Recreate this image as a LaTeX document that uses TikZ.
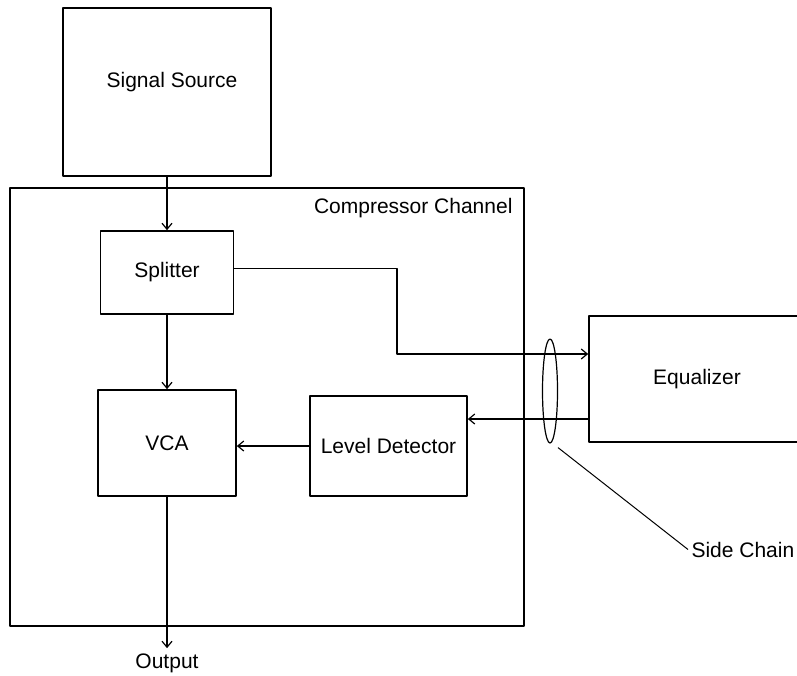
\documentclass[tikz,border=0pt]{standalone}
\usepackage{fontspec}
\setmainfont{Liberation Sans}
\usetikzlibrary{arrows.meta,shapes.geometric}
\begin{document}
\begin{tikzpicture}[x = 1pt, y = -1pt, line join = round, font = \fontsize{21}{25}\selectfont,
		box/.style = {draw, line width = 1.7pt, inner sep = 0pt},
		arr/.style = {line width = 1.6pt, -{Straight Barb[length = 6pt, width = 10pt, line width = 1.2pt]}}]
				\useasboundingbox (0,0) rectangle (797,675);
				% blocks
				\node[box, minimum width = 208pt, minimum height = 168pt] (src) at (167,92) {};
				\node[anchor = base] (srclbl) at (172,87) {Signal Source};
				\node[box, minimum width = 514pt, minimum height = 438pt] (chan) at (267,407) {};
				\node[anchor = base east] (chanlbl) at (516,213) {Compressor Channel};
				\node[box, minimum width = 133pt, minimum height = 83pt] (split) at (167,272.5) {Splitter};
				\node[box, minimum width = 138pt, minimum height = 106pt] (vca) at (167,443) {VCA};
				\node[box, minimum width = 157pt, minimum height = 100pt] (det) at (388.5,446) {Level Detector};
				\node[box, minimum width = 216pt, minimum height = 126pt] (eq) at (697,379) {Equalizer};
				\node[draw, ellipse, line width = 1.2pt, inner sep = 0pt, minimum width = 15pt, minimum height = 104pt] (ring) at (550,391) {};
				\node[anchor = base, inner sep = 5pt] (out) at (167,668) {Output};
				\node[anchor = base west] (sc) at (688,557) {Side Chain};
				\coordinate (bend) at (397,354);
				% signal flow
				\draw[arr] (src) -- (split);
				\draw[arr] (split) -- (vca);
				\draw[arr] ([yshift = 4pt]split.east) -| (bend) -- (bend -| eq.west);
				\draw[arr] ([yshift = -40pt]eq.west) -- ([yshift = 27pt]det.east);
				\draw[arr] (det.west) -- (det.west -| vca.east);
				\draw[arr] (vca) -- (out);
				\draw[line width = 1pt] ([shift = {(8pt,-4pt)}]ring.south) -- (sc.west);
			\end{tikzpicture}
\end{document}
